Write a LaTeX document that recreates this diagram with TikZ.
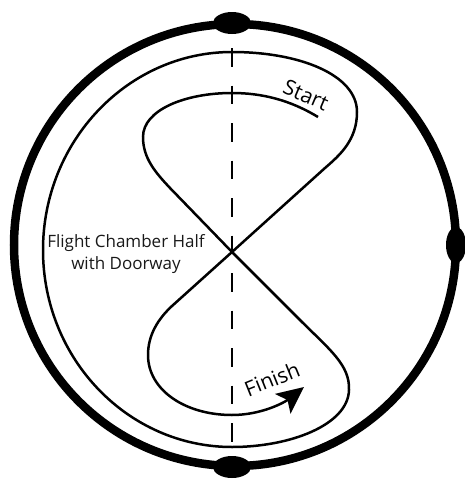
\documentclass[tikz,border=0pt]{standalone}
\usepackage{fontspec}
\setmainfont{Open Sans}
\usetikzlibrary{arrows.meta}
\tikzset{
	wall/.style={line width=8.5pt, black},
	mount/.style={fill=black},
	flight/.style={line width=2.5pt, black, -{Stealth[length=27pt, width=25pt, inset=6pt]}},
	midline/.style={line width=2.8pt, black, dash pattern=on 18.5pt off 19pt},
	cue/.style={inner sep=0pt, font=\fontsize{21}{24}\selectfont},
	note/.style={align=center, inner sep=0pt, text=black!90, font=\fontsize{17}{21.5}\selectfont}
}

\begin{document}
\begin{tikzpicture}[x=1pt, y=-1pt]
		\useasboundingbox (0,0) rectangle (465,479);
		\draw[wall] (235,245) circle (221);
		\fill[mount] (232,23) ellipse (19 and 11);
		\fill[mount] (232,467) ellipse (19 and 11);
		\fill[mount] (456,245) ellipse (10 and 18);
		\draw[midline] (232,48) -- (232,442);
		\draw[flight] (318,117) .. controls (290,100) and (262,93) .. (232,93)
			.. controls (185,93) and (143,110) .. (143,137)
			.. controls (143,158) and (155,172) .. (170,188)
			-- (232,252) -- (300,320)
			.. controls (330,350) and (350,365) .. (349,390)
			.. controls (348,425) and (290,447) .. (232,447)
			.. controls (128,447) and (43,359) .. (43,250)
			.. controls (43,141) and (128,52) .. (232,52)
			.. controls (300,52) and (357,75) .. (357,112)
			.. controls (357,140) and (340,155) .. (325,168)
			-- (232,252) -- (172,306)
			.. controls (158,319) and (148,335) .. (148,355)
			.. controls (148,390) and (185,415) .. (232,415)
			.. controls (262,415) and (285,402) .. (304,387);
		\node[cue, rotate=-23] (start) at (306,95) {Start};
		\node[cue, rotate=22] (finish) at (272,379) {Finish};
		\node[note] (chamber) at (126,254) {Flight Chamber Half\\with Doorway};
	\end{tikzpicture}
\end{document}
